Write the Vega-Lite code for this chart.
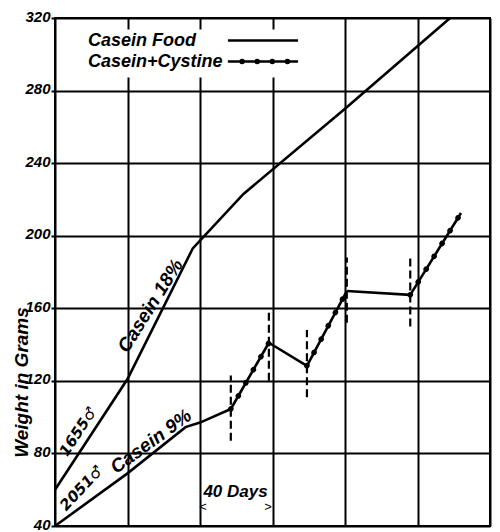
{
  "$schema": "https://vega.github.io/schema/vega-lite/v6.json",
  "width": 435,
  "height": 508,
  "autosize": {"type": "none"},
  "padding": {"left": 55, "top": 18, "right": 10, "bottom": 6},
  "background": "white",
  "datasets": {
    "weights": [
      {"rat": "1655", "diet": "Casein Food", "seg": "a", "day": 0, "weight": 60},
      {"rat": "1655", "diet": "Casein Food", "seg": "a", "day": 40, "weight": 121},
      {"rat": "1655", "diet": "Casein Food", "seg": "a", "day": 76, "weight": 193},
      {"rat": "1655", "diet": "Casein Food", "seg": "a", "day": 104, "weight": 223},
      {"rat": "1655", "diet": "Casein Food", "seg": "a", "day": 160, "weight": 270},
      {"rat": "1655", "diet": "Casein Food", "seg": "a", "day": 218, "weight": 320},
      {"rat": "2051", "diet": "Casein Food", "seg": "b", "day": 0, "weight": 40},
      {"rat": "2051", "diet": "Casein Food", "seg": "b", "day": 40, "weight": 69},
      {"rat": "2051", "diet": "Casein Food", "seg": "b", "day": 72, "weight": 94.5},
      {"rat": "2051", "diet": "Casein Food", "seg": "b", "day": 80, "weight": 97},
      {"rat": "2051", "diet": "Casein Food", "seg": "b", "day": 97, "weight": 104.5},
      {"rat": "2051", "diet": "Casein+Cystine", "seg": "c", "day": 97, "weight": 104.5},
      {"rat": "2051", "diet": "Casein+Cystine", "seg": "c", "day": 118, "weight": 141},
      {"rat": "2051", "diet": "Casein Food", "seg": "d", "day": 118, "weight": 141},
      {"rat": "2051", "diet": "Casein Food", "seg": "d", "day": 139, "weight": 128.3},
      {"rat": "2051", "diet": "Casein+Cystine", "seg": "e", "day": 139, "weight": 128.3},
      {"rat": "2051", "diet": "Casein+Cystine", "seg": "e", "day": 161, "weight": 169.5},
      {"rat": "2051", "diet": "Casein Food", "seg": "f", "day": 161, "weight": 169.5},
      {"rat": "2051", "diet": "Casein Food", "seg": "f", "day": 196, "weight": 167.4},
      {"rat": "2051", "diet": "Casein+Cystine", "seg": "g", "day": 196, "weight": 167.4},
      {"rat": "2051", "diet": "Casein+Cystine", "seg": "g", "day": 224, "weight": 212.5}
    ],
    "switches": [
      {"day": 97, "weight": 87, "weight2": 123},
      {"day": 118, "weight": 120, "weight2": 159},
      {"day": 139, "weight": 111, "weight2": 148},
      {"day": 161, "weight": 152, "weight2": 188},
      {"day": 196, "weight": 150, "weight2": 188}
    ],
    "legendBox": [
      {"day": 13.8, "day2": 137.9, "weight": 287.2, "weight2": 313.7}
    ],
    "legendLabels": [
      {"diet": "Casein Food", "day": 18.2, "weight": 304.3},
      {"diet": "Casein+Cystine", "day": 18.2, "weight": 293.2}
    ],
    "legendKeys": [
      {"diet": "Casein Food", "day": 95.4, "day2": 134.1, "weight": 307.6},
      {"diet": "Casein+Cystine", "day": 95.4, "day2": 134.1, "weight": 296},
      {"diet": "Casein+Cystine dots", "day": 103.2, "day2": 128.3, "weight": 296}
    ]
  },
  "encoding": {
    "x": {
      "field": "day",
      "type": "quantitative",
      "scale": {"domain": [0, 240], "nice": false, "zero": false},
      "axis": {
        "values": [0, 40, 80, 120, 160, 200, 240],
        "grid": true,
        "labels": false,
        "ticks": false,
        "domain": false,
        "title": null
      }
    },
    "y": {
      "field": "weight",
      "type": "quantitative",
      "scale": {"domain": [40, 320], "nice": false, "zero": false},
      "axis": {
        "values": [40, 80, 120, 160, 200, 240, 280, 320],
        "grid": true,
        "domain": false,
        "tickSize": 4,
        "labelPadding": 1,
        "labelOffset": -2,
        "title": "Weight in Grams",
        "titleX": -34,
        "titleY": 364,
        "titleAngle": 270,
        "titleAlign": "center",
        "titleBaseline": "middle"
      }
    }
  },
  "layer": [
    {
      "data": {"name": "weights"},
      "mark": {"type": "line", "color": "black", "strokeWidth": 2.6},
      "encoding": {"detail": {"field": "seg", "type": "nominal"}}
    },
    {
      "data": {"name": "weights"},
      "transform": [{"filter": "datum.diet === 'Casein+Cystine'"}],
      "mark": {"type": "line", "color": "black", "strokeWidth": 5.5, "strokeCap": "round", "strokeDash": [0.1, 15]},
      "encoding": {"detail": {"field": "seg", "type": "nominal"}}
    },
    {
      "data": {"name": "switches"},
      "mark": {"type": "rule", "color": "black", "strokeWidth": 2.2, "strokeDash": [8, 4]},
      "encoding": {"y2": {"field": "weight2"}}
    },
    {
      "data": {"name": "legendBox"},
      "mark": {"type": "rect", "color": "white"},
      "encoding": {"x2": {"field": "day2"}, "y2": {"field": "weight2"}}
    },
    {
      "data": {"name": "legendLabels"},
      "mark": {"type": "text", "align": "left", "baseline": "alphabetic", "font": "Liberation Sans", "fontSize": 18, "fontWeight": "bold", "fontStyle": "italic", "color": "black"},
      "encoding": {"text": {"field": "diet"}}
    },
    {
      "data": {"name": "legendKeys"},
      "transform": [{"filter": "datum.diet !== 'Casein+Cystine dots'"}],
      "mark": {"type": "rule", "color": "black", "strokeWidth": 2.4},
      "encoding": {"x2": {"field": "day2"}}
    },
    {
      "data": {"name": "legendKeys"},
      "transform": [{"filter": "datum.diet === 'Casein+Cystine dots'"}],
      "mark": {"type": "rule", "color": "black", "strokeWidth": 5.5, "strokeCap": "round", "strokeDash": [0.1, 15]},
      "encoding": {"x2": {"field": "day2"}}
    },
    {
      "data": {"values": [{"day": 52.7, "weight": 161.4, "label": "Casein 18%"}]},
      "mark": {"type": "text", "angle": 302, "font": "Liberation Sans", "fontSize": 19, "fontWeight": "bold", "fontStyle": "italic", "color": "black"},
      "encoding": {"text": {"field": "label"}}
    },
    {
      "data": {"values": [{"day": 53, "weight": 86.6, "label": "Casein 9%"}]},
      "mark": {"type": "text", "angle": 324, "font": "Liberation Sans", "fontSize": 19, "fontWeight": "bold", "fontStyle": "italic", "color": "black"},
      "encoding": {"text": {"field": "label"}}
    },
    {
      "data": {"values": [{"day": 12.7, "weight": 92.1, "label": "1655♂"}]},
      "mark": {"type": "text", "angle": 303, "font": "DejaVu Sans", "fontSize": 15, "fontWeight": "bold", "fontStyle": "italic", "color": "black"},
      "encoding": {"text": {"field": "label"}}
    },
    {
      "data": {"values": [{"day": 14.6, "weight": 61, "label": "2051♂"}]},
      "mark": {"type": "text", "angle": 313, "font": "DejaVu Sans", "fontSize": 15, "fontWeight": "bold", "fontStyle": "italic", "color": "black"},
      "encoding": {"text": {"field": "label"}}
    },
    {
      "data": {"values": [{"day": 99.6, "weight": 58.8, "label": "40 Days"}]},
      "mark": {"type": "text", "font": "Liberation Sans", "fontSize": 17, "fontWeight": "bold", "fontStyle": "italic", "color": "black"},
      "encoding": {"text": {"field": "label"}}
    },
    {
      "data": {"values": [{"day": 81.7, "weight": 50.5, "label": "<"}, {"day": 117.5, "weight": 50.5, "label": ">"}]},
      "mark": {"type": "text", "font": "Liberation Sans", "fontSize": 13, "color": "black"},
      "encoding": {"text": {"field": "label"}}
    }
  ],
  "config": {
    "view": {"stroke": "black", "strokeWidth": 2},
    "axis": {
      "gridColor": "black",
      "gridOpacity": 1,
      "gridWidth": 2,
      "tickColor": "black",
      "tickWidth": 2,
      "labelFont": "Liberation Sans",
      "labelFontSize": 15,
      "labelFontWeight": "bold",
      "labelFontStyle": "italic",
      "labelColor": "black",
      "titleFont": "Liberation Sans",
      "titleFontSize": 19,
      "titleFontWeight": "bold",
      "titleFontStyle": "italic",
      "titleColor": "black"
    }
  }
}
